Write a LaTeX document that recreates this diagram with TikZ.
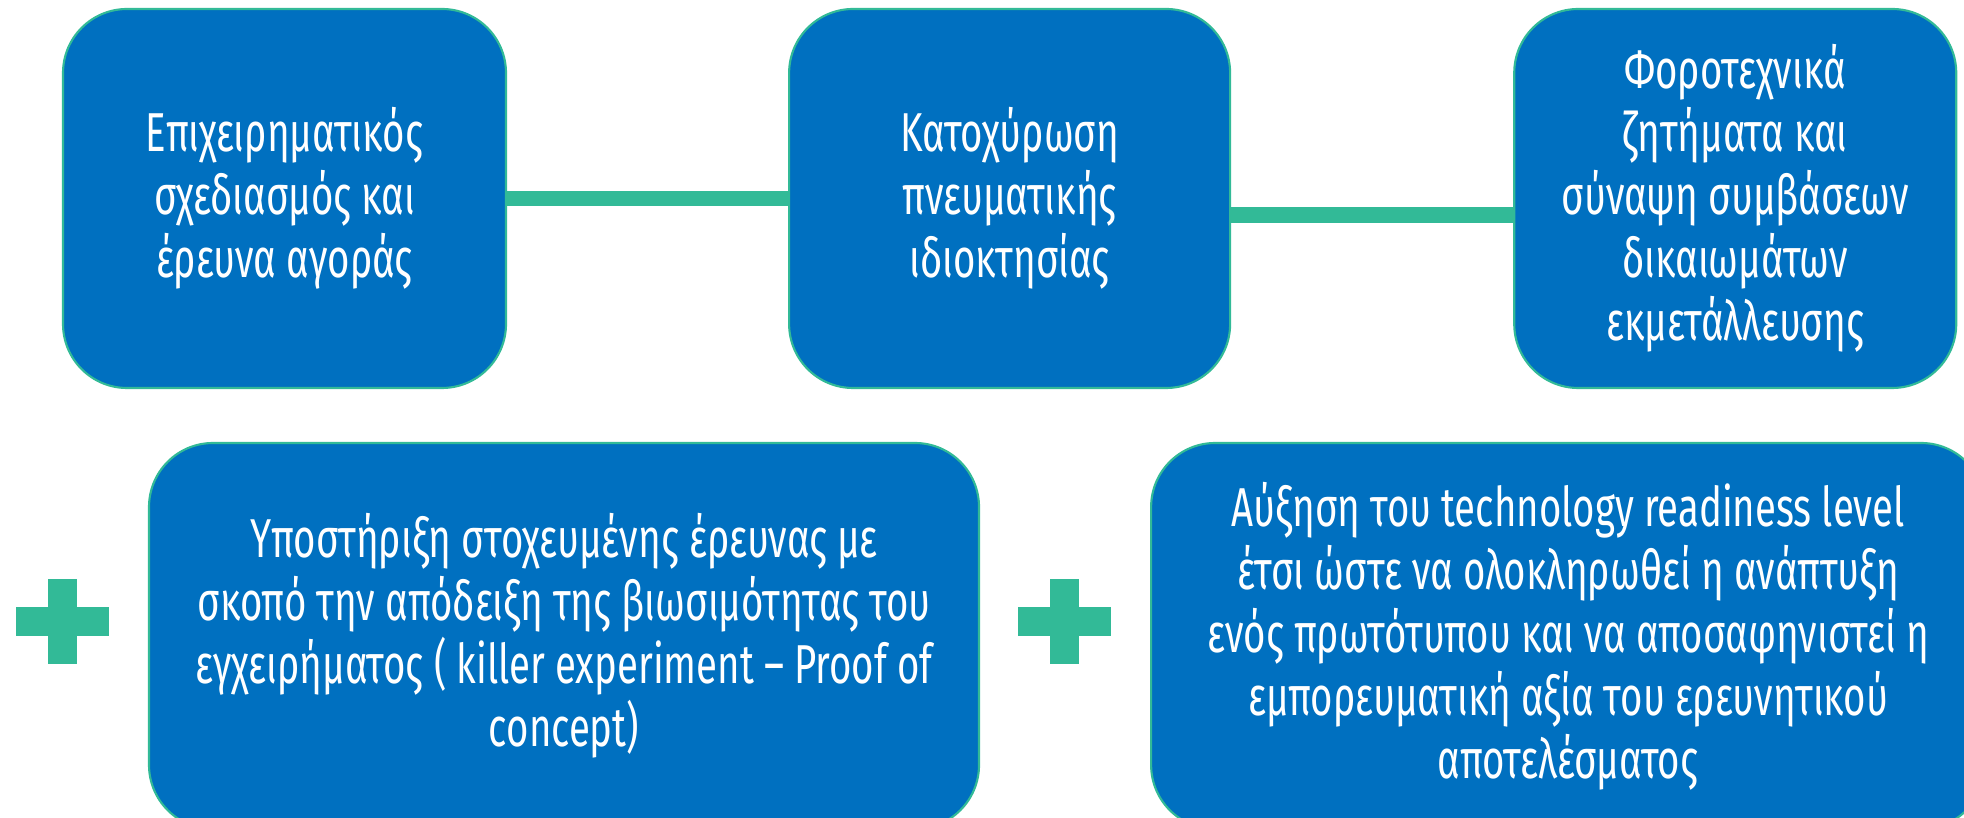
\documentclass[tikz,border=0pt]{standalone}
\usepackage{fontspec}
\setmainfont{Fira Sans}[FakeStretch=0.70]
\usetikzlibrary{positioning}
\definecolor{box_fill}{HTML}{0070C0}
\definecolor{line_green}{HTML}{32BA97}

\begin{document}
\begin{tikzpicture}[
    font=\fontsize{15.6}{17.9}\selectfont,
    box/.style={draw=line_green, line width=0.6pt, fill=box_fill, text=white,
        rounded corners=0.64cm, align=center, inner sep=0pt},
    link/.style={line_green, line width=4.3pt}
]

% --- Cornice ---
\useasboundingbox (0,0) rectangle (19.64,-8.18);
\clip (0,0) rectangle (19.64,-8.18);

% --- Croce verde riutilizzabile ---
\def\greenplus{
    \fill[line_green] (-0.145,-0.425) rectangle (0.145,0.425);
    \fill[line_green] (-0.465,-0.145) rectangle (0.465,0.145);
}

% --- 1. Riga superiore ---
\node[box, minimum width=4.43cm, minimum height=3.79cm] (plan_box) at (2.845,-1.985)
    {Επιχειρηματικός\\σχεδιασμός και\\έρευνα αγοράς};
\node[box, minimum width=4.41cm, minimum height=3.79cm, right=2.81cm of plan_box] (ip_box)
    {Κατοχύρωση\\πνευματικής\\ιδιοκτησίας};
\node[box, minimum width=4.42cm, minimum height=3.79cm, right=2.82cm of ip_box] (tax_box)
    {Φοροτεχνικά\\ζητήματα και\\σύναψη συμβάσεων\\δικαιωμάτων\\εκμετάλλευσης};

% Linee di collegamento
\draw[link] (plan_box.east) -- (ip_box.west);
\draw[link] ([yshift=-0.165cm]ip_box.east) -- ([yshift=-0.165cm]tax_box.west);

% --- 2. Riga inferiore ---
\node[box, minimum width=8.30cm, minimum height=3.86cm] (poc_box) at (5.64,-6.36)
    {Υποστήριξη στοχευμένης έρευνας με\\σκοπό την απόδειξη της βιωσιμότητας του\\εγχειρήματος ( killer experiment – Proof of\\concept)};
\node[box, minimum width=8.34cm, minimum height=3.86cm, right=1.70cm of poc_box] (trl_box)
    {Αύξηση του technology readiness level\\έτσι ώστε να ολοκληρωθεί η ανάπτυξη\\ενός πρωτότυπου και να αποσαφηνιστεί η\\εμπορευματική αξία του ερευνητικού\\αποτελέσματος};

% Croci davanti ai riquadri
\begin{scope}[shift={(poc_box.west)}, xshift=-0.855cm, yshift=0.145cm]
    \greenplus
\end{scope}
\begin{scope}[shift={(trl_box.west)}, xshift=-0.855cm, yshift=0.145cm]
    \greenplus
\end{scope}

\end{tikzpicture}
\end{document}
